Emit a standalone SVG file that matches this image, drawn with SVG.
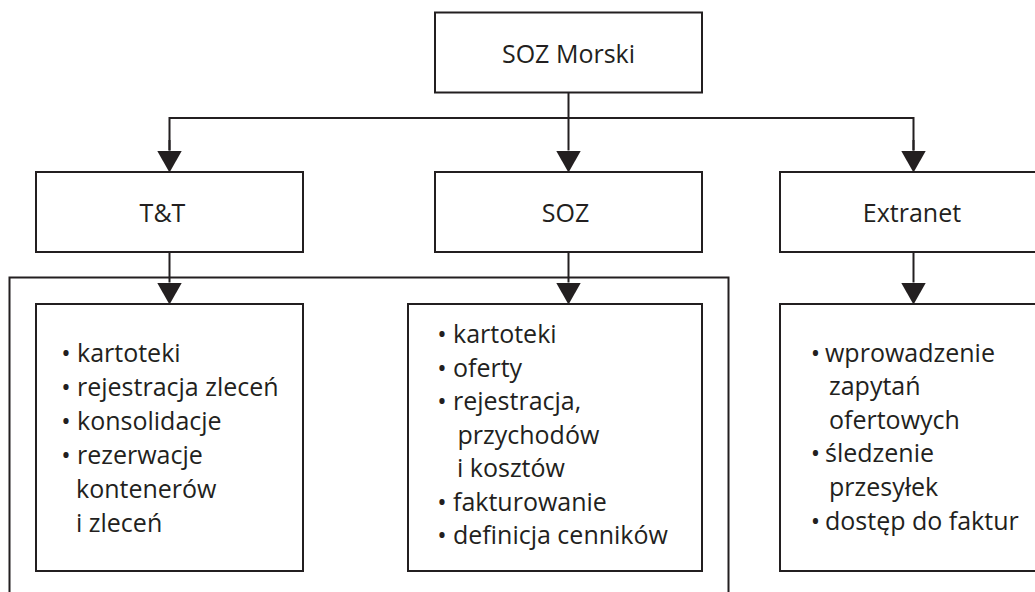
<svg xmlns="http://www.w3.org/2000/svg" width="1035" height="592" viewBox="0 0 1035 592">
<defs>
<style>
.box{fill:#fff;stroke:#231f20;stroke-width:2}
.frame{fill:none;stroke:#231f20;stroke-width:2}
.con{fill:none;stroke:#231f20;stroke-width:2}
.t{font-family:"Open Sans","Noto Sans","Liberation Sans",sans-serif;font-size:25px;fill:#231f20}
.c{text-anchor:middle}
</style>
<marker id="arr" viewBox="0 0 22 25" refX="0" refY="12.5" markerWidth="22" markerHeight="25" markerUnits="userSpaceOnUse" orient="auto">
<path d="M0,0 L22,12.5 L0,25 Z" fill="#231f20"/>
</marker>
</defs>
<rect width="1035" height="592" fill="#fff"/>

<g id="group-frame">
<rect class="frame" x="9.5" y="277.5" width="719" height="340"/>
</g>

<g id="node-soz-morski">
<rect class="box" x="435" y="12.5" width="267" height="80"/>
<text class="t c" x="568.5" y="62.5">SOZ Morski</text>
</g>

<g id="node-tt">
<rect class="box" x="36" y="172" width="267" height="80"/>
<text class="t c" x="162.5" y="221.5">T&amp;T</text>
</g>

<g id="node-soz">
<rect class="box" x="435" y="172" width="267" height="80"/>
<text class="t c" x="565.5" y="221.5">SOZ</text>
</g>

<g id="node-extranet">
<rect class="box" x="780" y="172" width="280" height="80"/>
<text class="t c" x="912" y="221.5">Extranet</text>
</g>

<g id="node-tt-list">
<rect class="box" x="36" y="304" width="267" height="267"/>
<text class="t c" x="66" y="362">•</text>
<text class="t" x="77" y="362">kartoteki</text>
<text class="t c" x="66" y="396">•</text>
<text class="t" x="77" y="396">rejestracja zleceń</text>
<text class="t c" x="66" y="430">•</text>
<text class="t" x="77" y="430">konsolidacje</text>
<text class="t c" x="66" y="464">•</text>
<text class="t" x="77" y="464">rezerwacje</text>
<text class="t" x="76" y="498">kontenerów</text>
<text class="t" x="76" y="532">i zleceń</text>
</g>

<g id="node-soz-list">
<rect class="box" x="408" y="304" width="294" height="267"/>
<text class="t c" x="442" y="343">•</text>
<text class="t" x="453" y="343">kartoteki</text>
<text class="t c" x="442" y="376.5">•</text>
<text class="t" x="453" y="376.5">oferty</text>
<text class="t c" x="442" y="410">•</text>
<text class="t" x="453" y="410">rejestracja,</text>
<text class="t" x="457.5" y="443.5">przychodów</text>
<text class="t" x="457" y="477">i kosztów</text>
<text class="t c" x="442" y="510.5">•</text>
<text class="t" x="453" y="510.5">fakturowanie</text>
<text class="t c" x="442" y="544">•</text>
<text class="t" x="453" y="544">definicja cenników</text>
</g>

<g id="node-extranet-list">
<rect class="box" x="780" y="304" width="280" height="267"/>
<text class="t c" x="815.5" y="361.5">•</text>
<text class="t" x="825" y="361.5">wprowadzenie</text>
<text class="t" x="829" y="395">zapytań</text>
<text class="t" x="829" y="428.5">ofertowych</text>
<text class="t c" x="815.5" y="462">•</text>
<text class="t" x="825" y="462">śledzenie</text>
<text class="t" x="829" y="495.5">przesyłek</text>
<text class="t c" x="815.5" y="529.5">•</text>
<text class="t" x="825" y="529.5">dostęp do faktur</text>
</g>

<g id="connectors">
<path class="con" d="M568.5,92.5 V150.5" marker-end="url(#arr)"/>
<path class="con" d="M169.5,150.5 V118 H913.5 V150.5"/>
<path class="con" d="M169.5,140 V150.5" marker-end="url(#arr)"/>
<path class="con" d="M913.5,140 V150.5" marker-end="url(#arr)"/>
<path class="con" d="M169.5,252 V282.5" marker-end="url(#arr)"/>
<path class="con" d="M568.5,252 V282.5" marker-end="url(#arr)"/>
<path class="con" d="M913.5,252 V282.5" marker-end="url(#arr)"/>
</g>
</svg>
